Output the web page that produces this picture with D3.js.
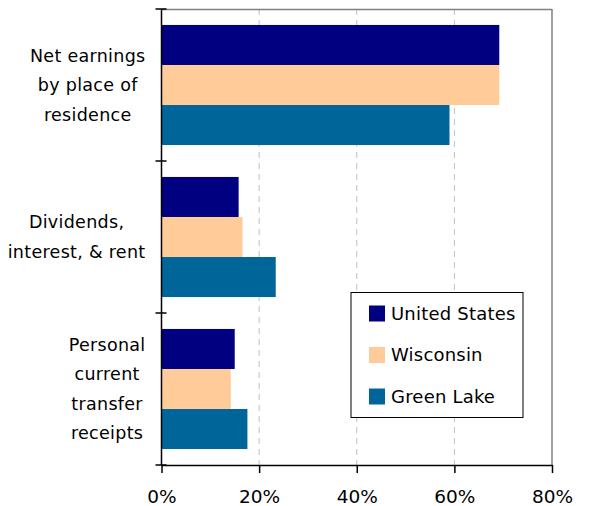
<!DOCTYPE html>
<html>
<head>
<meta charset="utf-8">
<script src="https://cdn.jsdelivr.net/npm/d3@7"></script>
<style>
  body { margin: 0; background: #fff; }
  svg { display: block; font-family: "DejaVu Sans", sans-serif; }
</style>
</head>
<body>
<svg id="chart" width="589" height="506"></svg>
<script>
// income sources, share of personal income
const categories = ['Net earnings by place of residence', 'Dividends, interest, & rent', 'Personal current transfer receipts']
const categoryLines = [['Net earnings', 'by place of', 'residence'], ['Dividends,', 'interest, & rent'], ['Personal', 'current', 'transfer', 'receipts']]
const seriesNames = ['United States', 'Wisconsin', 'Green Lake']
const unitedStates = [69.2, 15.8, 15.0]
const wisconsin = [69.2, 16.6, 14.2]
const greenLake = [59.0, 23.4, 17.6]
const xTicks = [0, 20, 40, 60, 80]

const colors = ['#000080', '#ffcc99', '#006699']
const margins = { top: 9, right: 37, bottom: 41, left: 161.5 }
const W = 589, H = 506
const width = W - margins.left - margins.right
const height = H - margins.top - margins.bottom

const series = [unitedStates, wisconsin, greenLake]

const svg = d3.select('#chart')
const g = svg.append('g').attr('transform', `translate(${margins.left},${margins.top})`)

const x = d3.scaleLinear().domain([0, 80]).range([0, width])
const y0 = d3.scaleBand().domain(categories).range([0, height]).paddingInner(0.21).paddingOuter(0.105)
const y1 = d3.scaleBand().domain(seriesNames).range([0, y0.bandwidth()])

// dashed gridlines
g.selectAll('.grid').data(xTicks.slice(1, -1))
  .enter().append('line')
  .attr('x1', d => x(d)).attr('x2', d => x(d))
  .attr('y1', 0).attr('y2', height)
  .attr('stroke', '#c0c0c0').attr('stroke-dasharray', '6,5')

// plot border top/right
g.append('line').attr('x1', 0).attr('x2', width).attr('y1', 0.5).attr('y2', 0.5).attr('stroke', '#808080').attr('stroke-width', 1.5)
g.append('line').attr('x1', width).attr('x2', width).attr('y1', 0).attr('y2', height).attr('stroke', '#808080').attr('stroke-width', 1.5)

// bars
const groups = g.selectAll('.cat').data(categories)
  .enter().append('g')
  .attr('transform', d => `translate(0,${y0(d)})`)

groups.selectAll('rect')
  .data((c, i) => seriesNames.map((s, k) => ({ s, v: series[k][i], k })))
  .enter().append('rect')
  .attr('x', 0)
  .attr('y', d => y1(d.s))
  .attr('width', d => x(d.v))
  .attr('height', y1.bandwidth())
  .attr('fill', d => colors[d.k])

// x axis
const xAxis = g.append('g').attr('transform', `translate(0,${height})`)
  .call(d3.axisBottom(x).tickValues(xTicks).tickFormat(d => d + '%').tickSize(8).tickSizeOuter(0).tickPadding(17))
xAxis.select('.domain').attr('stroke', '#000').attr('stroke-width', 1.5)
xAxis.selectAll('.tick line').attr('stroke', '#000').attr('stroke-width', 1.5)
xAxis.selectAll('text').attr('font-size', 18.5).attr('fill', '#000').attr('font-family', '"DejaVu Sans", sans-serif')

// y axis: line with crossing ticks at band boundaries
const bounds = [0, height / 3, 2 * height / 3, height]
g.append('line').attr('x1', 0).attr('x2', 0).attr('y1', 0).attr('y2', height).attr('stroke', '#000').attr('stroke-width', 1.5)
g.selectAll('.ytick').data(bounds).enter().append('line')
  .attr('x1', -6).attr('x2', 5).attr('y1', d => d).attr('y2', d => d)
  .attr('stroke', '#000').attr('stroke-width', 1.5)

// category labels: block right aligned, lines centered in block
const labelRight = -16
categories.forEach((c, i) => {
  const lines = categoryLines[i]
  const cy = y0(c) + y0.bandwidth() / 2
  const t = g.append('text').attr('font-size', 17.5).attr('letter-spacing', 0.3).attr('fill', '#000').attr('text-anchor', 'middle')
  const spans = lines.map((l, j) => t.append('tspan').attr('y', cy + (j - (lines.length - 1) / 2) * 29.5).attr('dy', '0.35em').text(l))
  const maxW = d3.max(spans, s => s.node().getComputedTextLength())
  spans.forEach(s => s.attr('x', labelRight - maxW / 2))
})

// legend
const legend = svg.append('g').attr('transform', 'translate(351,292.5)')
legend.append('rect').attr('width', 172).attr('height', 125).attr('fill', '#fff').attr('stroke', '#000').attr('stroke-width', 1)
seriesNames.forEach((s, i) => {
  const row = legend.append('g').attr('transform', `translate(18,${21 + i * 41.5})`)
  row.append('rect').attr('x', 0).attr('y', -8).attr('width', 16).attr('height', 16).attr('fill', colors[i])
  row.append('text').attr('x', 22).attr('dy', '0.35em').attr('font-size', 18).attr('letter-spacing', 0.2).attr('fill', '#000').text(s)
})
</script>
</body>
</html>
